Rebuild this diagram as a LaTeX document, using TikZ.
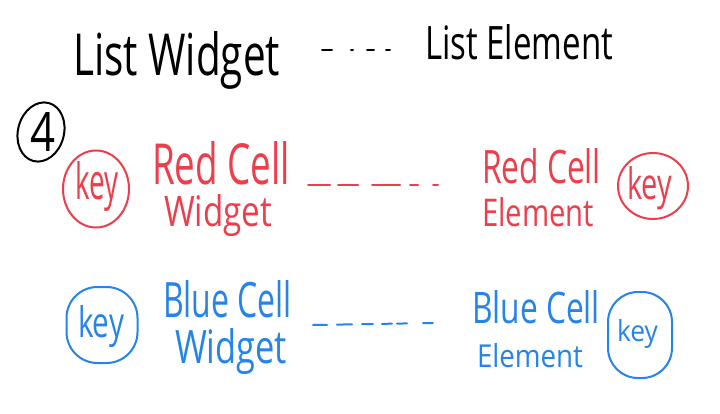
\documentclass[tikz,border=0pt]{standalone}
\usepackage{fontspec}
\setmainfont{Open Sans}
\usetikzlibrary{shapes.geometric}
\definecolor{penred}{RGB}{238,62,76}
\definecolor{penblue}{RGB}{38,132,232}
\newcommand{\hwtext}[3]{\resizebox{#1pt}{#2pt}{\fontsize{40}{40}\selectfont #3}}
\begin{document}
\begin{tikzpicture}[x=1pt,y=-1pt,
  txt/.style={anchor=base west, inner sep=0pt, outer sep=0pt},
  ring/.style={draw, line width=2pt},
  dashline/.style={line width=2pt, line cap=round}]
\useasboundingbox[fill=white] (0,0) rectangle (720,414);
% shapes
\node[ring, ellipse, draw=black, minimum width=46pt, minimum height=60pt, rotate=-15] (c4) at (41,132) {};
\node[ring, ellipse, draw=penred, minimum width=66pt, minimum height=77pt] (rk1) at (96,189) {};
\node[ring, ellipse, draw=penred, minimum width=70pt, minimum height=66pt] (rk2) at (653,186) {};
\node[ring, rectangle, rounded corners=31pt, draw=penblue, minimum width=71pt, minimum height=76pt] (bk1) at (102,325) {};
\node[ring, rectangle, rounded corners=30pt, draw=penblue, minimum width=64pt, minimum height=86pt] (bk2) at (640,335) {};
% texts
\node[txt] (lw) at (73,76) {\hwtext{207}{44}{List Widget}};
\node[txt] (le) at (425,60) {\hwtext{188}{35}{List Element}};
\node[txt] (n4) at (30,152) {\hwtext{25}{39}{4}};
\node[txt, penred] (rk1t) at (75,200) {\hwtext{43}{38}{key}};
\node[txt, penred] (rc1) at (152,185) {\hwtext{138}{43}{Red Cell}};
\node[txt, penred] (rw) at (164,227) {\hwtext{108}{32}{Widget}};
\node[txt, penred] (rc2) at (482,183) {\hwtext{119}{35}{Red Cell}};
\node[txt, penred] (re) at (482,227) {\hwtext{112}{29}{Element}};
\node[txt, penred] (rk2t) at (627,200) {\hwtext{45}{33}{key}};
\node[txt, penblue] (bk1t) at (78,337) {\hwtext{46}{32}{key}};
\node[txt, penblue] (bc1) at (163,317) {\hwtext{129}{37}{Blue Cell}};
\node[txt, penblue] (bw) at (175,363) {\hwtext{112}{35}{Widget}};
\node[txt, penblue] (bc2) at (472,323) {\hwtext{128}{33}{Blue Cell}};
\node[txt, penblue] (be) at (477,367) {\hwtext{106}{24}{Element}};
\node[txt, penblue] (bk2t) at (617,341) {\hwtext{41}{22}{key}};
% dashed connectors
\draw[dashline, black, dash pattern=on 10pt off 19pt on 2pt off 14pt on 7pt off 12pt on 4pt]
  ([xshift=42pt,yshift=26pt]lw.base east) -- ([xshift=-34pt,yshift=10pt]le.base west);
\draw[dashline, penred, dash pattern=on 22pt off 8pt on 20pt off 14pt on 28pt off 10pt on 8pt off 15pt on 5pt]
  ([xshift=18pt]rc1.base east) -- ([xshift=-44pt,yshift=-2pt]rc2.base west);
\draw[dashline, penblue, dash pattern=on 14pt off 10pt on 15pt off 10pt on 11pt off 9pt on 10pt off 5pt on 10pt off 16pt on 10pt]
  ([xshift=21pt,yshift=-8pt]bc1.base east) -- ([xshift=-39pt]bc2.base west);
\end{tikzpicture}
\end{document}
